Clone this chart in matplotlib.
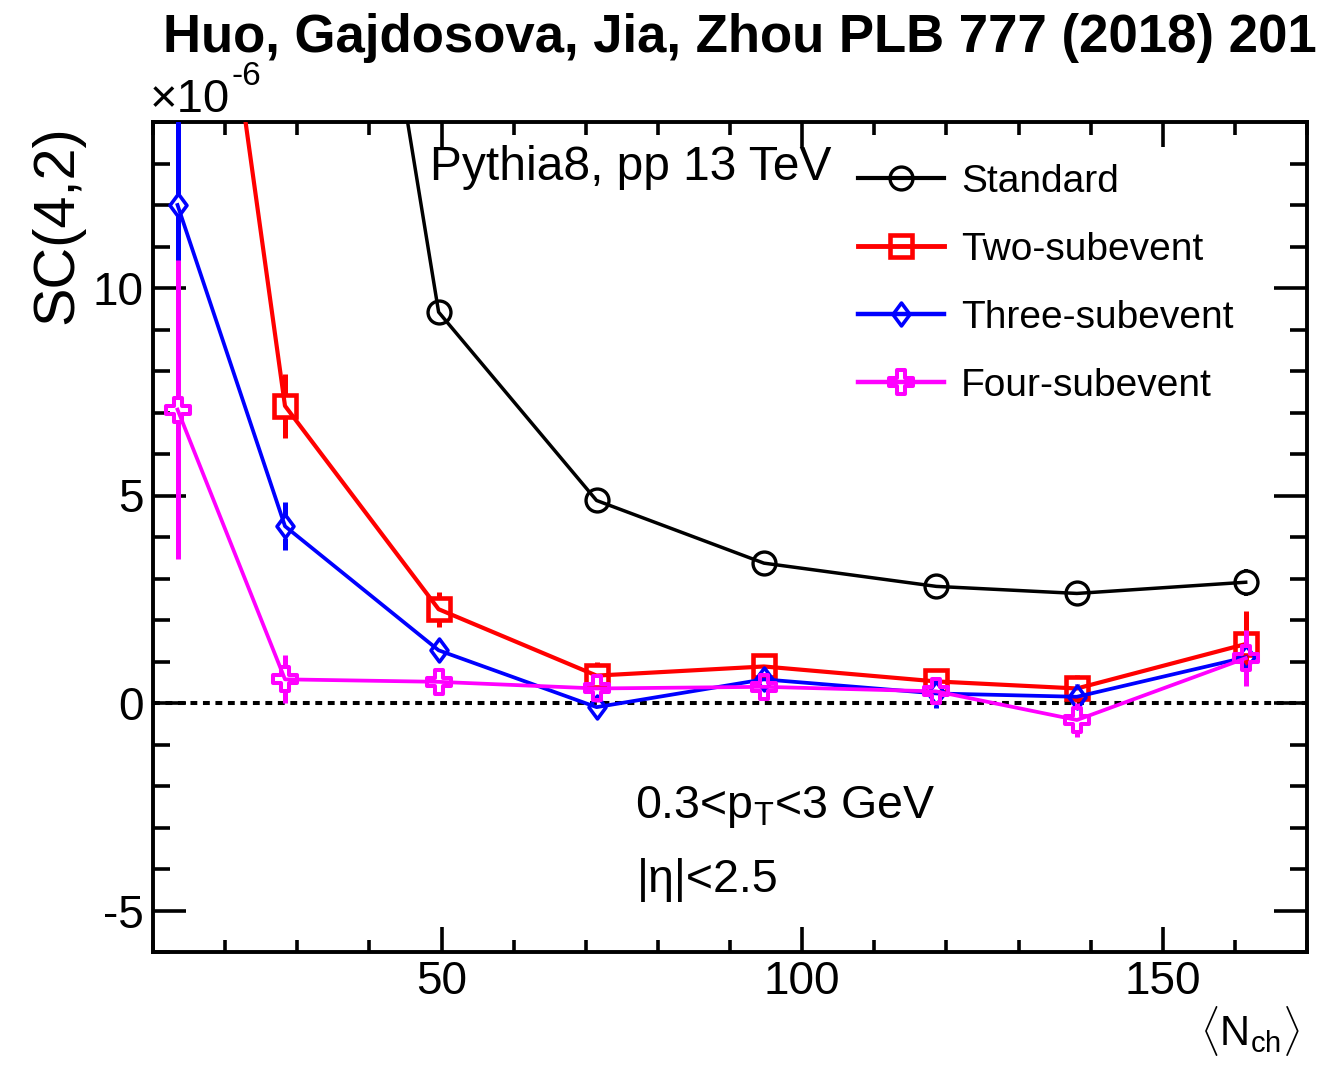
import numpy as np
import matplotlib
matplotlib.use("Agg")
import matplotlib.pyplot as plt
from matplotlib.path import Path
from matplotlib.lines import Line2D
from matplotlib.ticker import MultipleLocator

plt.rcParams['font.family'] = ['Liberation Sans', 'DejaVu Sans']
plt.rcParams['mathtext.fontset'] = 'custom'
plt.rcParams['mathtext.rm'] = 'Liberation Sans'
plt.rcParams['mathtext.it'] = 'Liberation Sans:italic'

# <N_ch> bin centres
nch = [13.4, 28.3, 49.6, 71.5, 94.7, 118.6, 138.1, 161.5]

# SC(4,2) in units of 1e-6
sc_standard = [60.0, 32.1, 9.42, 4.88, 3.37, 2.81, 2.64, 2.91]
err_standard = [3.0, 1.5, 0.15, 0.10, 0.10, 0.10, 0.12, 0.33]

sc_two = [25.8, 7.16, 2.26, 0.66, 0.88, 0.52, 0.35, 1.42]
err_two = [2.0, 0.77, 0.42, 0.33, 0.25, 0.31, 0.32, 0.80]

sc_three = [12.0, 4.26, 1.27, -0.10, 0.57, 0.23, 0.15, 1.10]
err_three = [2.4, 0.58, 0.20, 0.25, 0.20, 0.36, 0.30, 0.64]

sc_four = [7.07, 0.57, 0.51, 0.35, 0.39, 0.28, -0.41, 1.08]
err_four = [3.6, 0.58, 0.22, 0.32, 0.32, 0.30, 0.40, 0.68]

labels = ["Standard", "Two-subevent", "Three-subevent", "Four-subevent"]

# open cross and narrow diamond marker shapes
a = 0.16
cross_path = Path([(-a, 0.5), (a, 0.5), (a, a), (0.5, a), (0.5, -a), (a, -a),
                   (a, -0.5), (-a, -0.5), (-a, -a), (-0.5, -a), (-0.5, a), (-a, a),
                   (-a, 0.5)], closed=True)
diamond_path = Path([(0, 0.5), (0.37, 0), (0, -0.5), (-0.37, 0), (0, 0.5)], closed=True)

fig = plt.figure(figsize=(13.32, 10.66), dpi=100)
ax = fig.add_axes([153 / 1332, 1 - 952 / 1066, (1307 - 153) / 1332, (952 - 122) / 1066])
ax.set_xlim(10, 170)
ax.set_ylim(-6, 14)

series = [
    (sc_standard, err_standard, 'black', 'o', 16.5, 2.5, 2.4, 2.8),
    (sc_two, err_two, 'red', 's', 16.5, 3.0, 3.3, 3.6),
    (sc_three, err_three, 'blue', diamond_path, 16.5, 2.7, 2.6, 3.6),
    (sc_four, err_four, 'magenta', cross_path, 17.5, 2.7, 2.9, 3.6),
]

# pixels per data unit along y, for leaving the marker interior free of the error bar
y0 = ax.transData.transform((0, 0))[1]
y1 = ax.transData.transform((0, 1))[1]
px_per_unit = y1 - y0
pt_to_px = fig.dpi / 72.0

handles = []
for k, (vals, errs, col, mk, ms, lw, mew, elw) in enumerate(series):
    z = 3 + k
    ax.plot(nch, vals, color=col, lw=lw, marker=mk, ms=ms, mfc='none', mec=col,
            mew=mew, zorder=z)
    gap = 0.5 * ms * pt_to_px / px_per_unit
    for xv, yv, ev in zip(nch, vals, errs):
        if ev > gap:
            ax.vlines(xv, yv + gap, yv + ev, color=col, lw=elw, zorder=z)
            ax.vlines(xv, yv - ev, yv - gap, color=col, lw=elw, zorder=z)
    handles.append(Line2D([], [], color=col, lw=lw + 0.5, marker=mk, ms=ms, mfc='none',
                          mec=col, mew=mew))

# zero reference line
ax.axhline(0, color='black', lw=2.9, ls=(0, (1.7, 1.4)), dash_capstyle='butt', zorder=2)

# frame and ticks
for sp in ax.spines.values():
    sp.set_linewidth(2.8)
ax.xaxis.set_major_locator(MultipleLocator(50))
ax.xaxis.set_minor_locator(MultipleLocator(10))
ax.yaxis.set_major_locator(MultipleLocator(5))
ax.yaxis.set_minor_locator(MultipleLocator(1))
ax.tick_params(which='both', direction='in', top=True, right=True, width=2.6,
               labelsize=33)
ax.tick_params(axis='x', which='major', length=18, pad=6)
ax.tick_params(axis='x', which='minor', length=9)
ax.tick_params(axis='y', which='major', length=24, pad=7)
ax.tick_params(axis='y', which='minor', length=12)
ax.set_yticks([-5, 0, 5, 10])
ax.set_yticklabels(['-5', '0', '5', '10'])

# axis titles
fig.text(57 / 1332, 1 - 125 / 1066, 'SC(4,2)', rotation=90, ha='center', va='top',
         fontsize=41.5)
fig.text(1300 / 1332, 1 - 1058 / 1066, r'$\langle\mathrm{N}_{\mathrm{ch}}\rangle$',
         ha='right', va='bottom', fontsize=30)

# exponent marker
t_exp = fig.text(150 / 1332, 1 - 112 / 1066, '\u00d710', ha='left', va='baseline',
                 fontsize=34)
ax.annotate('-6', xy=(1.0, 1.0), xycoords=t_exp, xytext=(1, 12),
            textcoords='offset points', ha='left', va='top', fontsize=24,
            annotation_clip=False)

# annotations inside the frame
ax.text(0.240, 0.930, 'Pythia8, pp 13 TeV', transform=ax.transAxes, fontsize=34.5,
        ha='left', va='baseline')
ax.text(0.4177, 0.1614, r'0.3<p$_{\mathrm{T}}$<3 GeV', transform=ax.transAxes,
        fontsize=33.5, ha='left', va='baseline')
ax.text(0.4195, 0.0723, '|\u03b7|<2.5', transform=ax.transAxes, fontsize=33.5,
        ha='left', va='baseline')

ax.legend(handles, labels, loc='upper left', bbox_to_anchor=(0.611, 0.9494),
          frameon=False, fontsize=28, handlelength=2.2, handletextpad=0.45,
          labelspacing=0.82, borderpad=0, borderaxespad=0)

# header
fig.text(163 / 1332, 1 - 52 / 1066, 'Huo, Gajdosova, Jia, Zhou PLB 777 (2018) 201',
         ha='left', va='baseline', fontsize=38, fontweight='bold')

fig.savefig('out.png', dpi=100)
